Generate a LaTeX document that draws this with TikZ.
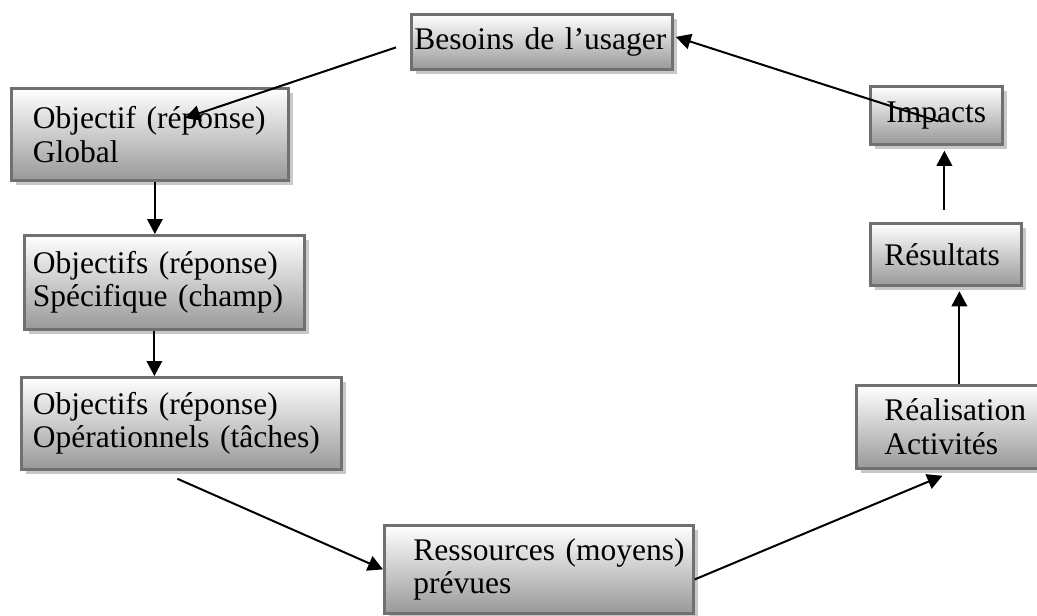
\documentclass[tikz,border=0pt]{standalone}
\usepackage{fontspec}
\setmainfont{Liberation Serif}
\usetikzlibrary{arrows.meta,shadows}

\definecolor{bord}{RGB}{112,112,112}
\definecolor{ombre}{RGB}{200,200,200}

\tikzset{
  bloc/.style={draw=bord, line width=1.1pt, top color=white, bottom color=gray!80,
    drop shadow={shadow xshift=1.8pt, shadow yshift=-1.8pt, fill=ombre, opacity=1},
    anchor=north west, align=left, inner xsep=0pt, inner ysep=0pt,
    font=\fontsize{12.6}{13.4}\selectfont},
  retrait/.style={execute at begin node={\leftskip=#1}},
  fleche/.style={-{Triangle[length=6pt,width=6.2pt]}, line width=0.8pt}
}

\begin{document}
\begin{tikzpicture}[x=0.4pt, y=-0.4pt]
  \useasboundingbox (0,0) rectangle (1037,615);

  % boites
  \node[bloc, minimum width=104.4pt, minimum height=22pt, text width=104.4pt, retrait=1.2pt]
    (besoins) at (410,13) {Besoins de l'usager};
  \node[bloc, minimum width=110.8pt, minimum height=36.8pt, text width=110.8pt, retrait=8.6pt]
    (global) at (10,87) {Objectif (réponse)\\Global};
  \node[bloc, minimum width=112pt, minimum height=37.6pt, text width=112pt, retrait=3.4pt]
    (specifique) at (23,234) {Objectifs (réponse)\\Spécifique (champ)};
  \node[bloc, minimum width=128pt, minimum height=36.8pt, text width=128pt, retrait=4.6pt]
    (operationnels) at (20,376) {Objectifs (réponse)\\Opérationnels (tâches)};
  \node[bloc, minimum width=123.6pt, minimum height=35.2pt, text width=123.6pt, retrait=11.6pt]
    (ressources) at (383,524) {Ressources (moyens)\\prévues};
  \node[bloc, minimum width=76pt, minimum height=33.2pt, text width=76pt, retrait=11.2pt]
    (realisation) at (855,384) {Réalisation\\Activités};
  \node[bloc, minimum width=60.4pt, minimum height=24.8pt, text width=60.4pt, retrait=5.6pt]
    (resultats) at (869,222) {Résultats};
  \node[bloc, minimum width=52.8pt, minimum height=23.2pt, text width=52.8pt, retrait=6.4pt]
    (impacts) at (869,85) {Impacts};

  \coordinate (pointe) at (185,118);

  % fleches
  \draw[fleche] ([xshift=-5.6pt,yshift=-2.2pt]besoins.west) -- (pointe);
  \draw[fleche] ([xshift=2pt]global.south) -- ([xshift=2pt]global.south |- specifique.north);
  \draw[fleche] ([xshift=-4pt]specifique.south) -- ([xshift=-4pt]specifique.south |- operationnels.north);
  \draw[fleche] ([xshift=-1.6pt,yshift=-3.2pt]operationnels.south) -- (ressources.west);
  \draw[fleche] ([yshift=-4pt]ressources.east) -- ([xshift=-3.6pt,yshift=-2.4pt]realisation.south);
  \draw[fleche] ([xshift=3.2pt]realisation.north) -- ([xshift=3.2pt,yshift=-1.8pt]realisation.north |- resultats.south);
  \draw[fleche] ([xshift=-0.6pt,yshift=4.8pt]resultats.north) -- ([xshift=-0.6pt,yshift=-2pt]resultats.north |- impacts.south);
  \draw[fleche] ([xshift=0.8pt,yshift=-2.4pt]impacts.center) -- ([xshift=0.8pt,yshift=2pt]besoins.east);
\end{tikzpicture}
\end{document}
